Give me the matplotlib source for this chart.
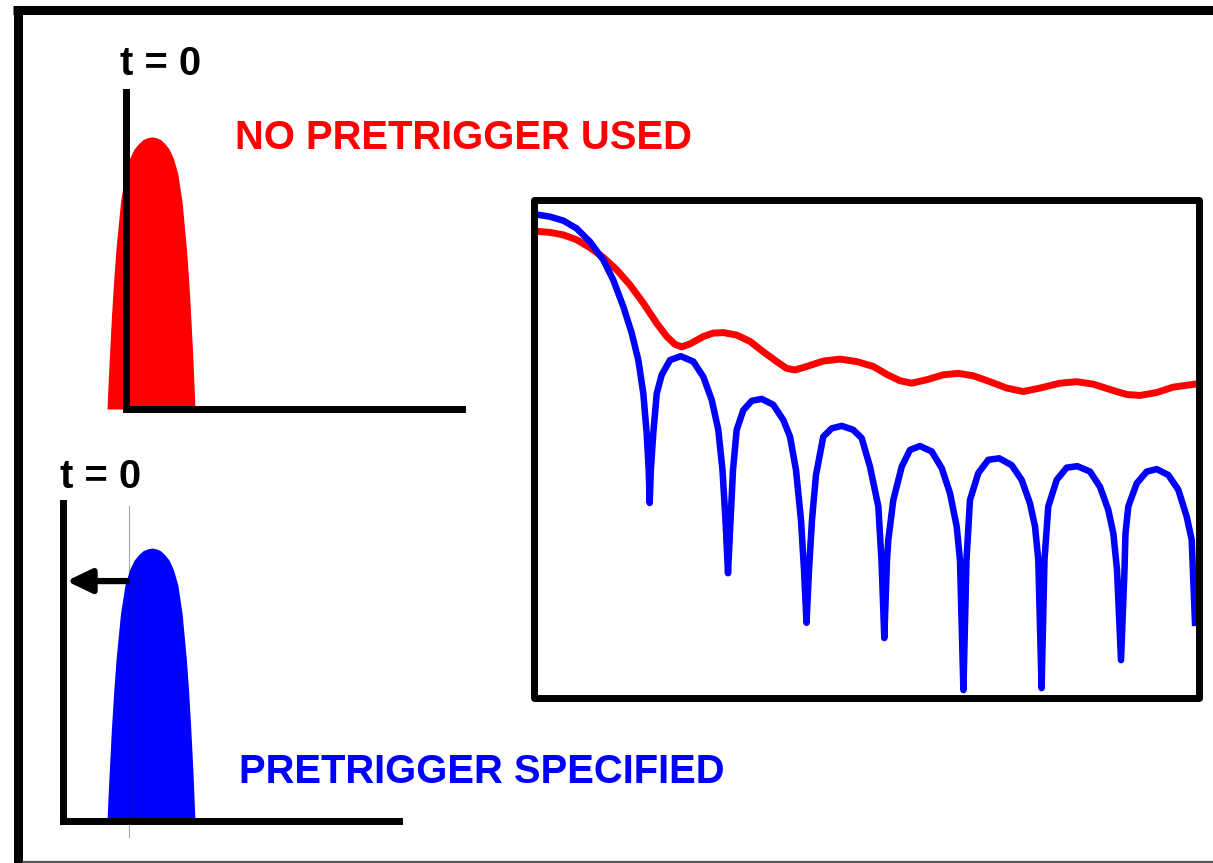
import matplotlib
matplotlib.use("Agg")
import matplotlib.pyplot as plt
from matplotlib.patches import Rectangle

W, H = 1213, 863

# ── Data ────────────────────────────────────────────────────────────────────
# pulse shape: time from pulse start (arb. units) and relative amplitude
pulse_t = [0.0, 0.09, 0.23, 0.45, 0.68, 0.9, 1.35, 1.8, 2.25, 2.7, 3.15, 3.6, 4.05,
           4.5, 4.93, 5.36, 5.79, 6.22, 6.65, 7.08, 7.51, 7.94, 8.16, 8.37, 8.59, 8.71, 8.8]
pulse_amp = [0.0, 0.078, 0.185, 0.344, 0.478, 0.59, 0.76, 0.865, 0.92, 0.955, 0.975, 0.99, 0.997,
             1.0, 0.997, 0.99, 0.975, 0.955, 0.92, 0.865, 0.76, 0.59, 0.478, 0.344, 0.185, 0.078, 0.0]

start_no_pretrig = -1.9   # pulse start relative to t = 0, no pretrigger
start_pretrig = 4.4       # pulse start relative to t = 0, pretrigger specified
trigger_pretrig = 6.6     # where the trigger would have been
arrow_level = 0.879

# spectra (frequency 0..100, level 0..100)
freq_red = [0, 1.83, 3.85, 5.89, 7.91, 9.94, 11.98, 14.0, 16.03, 18.07, 19.59, 20.85, 21.87,
            23.14, 25.16, 26.68, 28.2, 30.24, 32.27, 34.29, 36.33, 37.85, 39.12, 40.9, 43.42,
            45.97, 48.51, 51.04, 53.07, 55.1, 56.88, 59.16, 61.69, 63.97, 66.26, 68.8, 71.34,
            73.87, 76.41, 79.45, 81.99, 84.52, 87.57, 89.6, 91.63, 94.17, 96.7, 100]
level_red = [94.4, 94.2, 93.7, 92.7, 91.1, 89.1, 86.6, 83.5, 79.8, 75.7, 73.0, 71.4, 70.9,
             71.5, 73.0, 73.7, 73.8, 73.3, 72.0, 69.9, 67.9, 66.5, 66.2, 66.9, 68.0,
             68.4, 67.9, 66.9, 65.3, 64.0, 63.5, 64.2, 65.2, 65.5, 65.0, 63.8, 62.5,
             61.8, 62.5, 63.5, 63.8, 63.3, 62.0, 61.2, 61.0, 61.6, 62.7, 63.3]

freq_blue = [0, 1.83, 3.85, 5.89, 7.91, 9.94, 11.46, 12.98, 14.26, 15.27, 16.03, 16.54,
             16.85, 17.0, 17.17, 17.55, 18.07, 18.83, 20.09, 21.72, 23.64, 25.16, 26.44,
             27.44, 28.08, 28.54, 28.92, 29.3, 29.68, 30.24, 31.25, 32.53, 34.05, 35.81,
             37.34, 38.36, 39.27, 40.03, 40.49, 40.87, 41.25, 41.7, 42.31, 43.42, 44.7,
             46.23, 47.99, 49.27, 50.53, 51.8, 52.28, 52.71, 53.12, 53.32, 54.08, 55.36,
             56.62, 58.14, 59.92, 61.45, 62.71, 63.73, 64.23, 64.75, 65.22, 65.75, 67.02,
             68.54, 70.21, 72.1, 73.62, 74.89, 75.65, 76.15, 76.65, 77.09, 77.67, 78.95,
             80.47, 82.09, 84.02, 85.54, 86.8, 87.57, 88.13, 88.74, 89.27, 89.42, 89.85,
             91.13, 92.65, 94.17, 95.94, 97.46, 98.74, 99.5, 100]
level_blue = [97.8, 97.4, 96.6, 95.0, 92.3, 88.6, 84.5, 79.1, 73.7, 68.2, 61.4, 53.3,
              45.8, 39.1, 45.8, 53.3, 61.4, 65.2, 68.2, 69.0, 67.9, 64.8, 60.1,
              54.0, 45.8, 35.6, 24.8, 35.6, 45.8, 54.0, 58.0, 59.9, 60.3, 59.1,
              56.0, 52.6, 45.8, 35.6, 25.5, 14.7, 25.5, 35.6, 44.8, 52.6, 54.3,
              54.8, 54.0, 52.3, 46.5, 38.4, 27.5, 11.6, 27.5, 31.6, 39.7, 46.5,
              49.9, 50.7, 49.6, 46.2, 41.1, 34.3, 27.5, 1.0, 27.5, 39.7, 45.2,
              47.9, 48.2, 46.8, 43.8, 39.0, 34.3, 27.5, 1.4, 27.5, 38.4, 43.8,
              46.3, 46.6, 45.5, 42.4, 37.7, 32.9, 25.5, 7.1, 25.5, 32.9, 38.4,
              43.1, 45.5, 46.0, 44.8, 41.8, 36.3, 31.6, 14.7]

# ── Figure ──────────────────────────────────────────────────────────────────
fig = plt.figure(figsize=(W / 100, H / 100), dpi=100)
font = dict(family="Liberation Sans", weight="bold", size=28.8)


def place(left, top, right, bottom):
    return fig.add_axes([left / W, 1 - bottom / H, (right - left) / W, (bottom - top) / H])


# outer border (left + top thick, thin bottom)
bg = fig.add_axes([0, 0, 1, 1])
bg.set_xlim(0, W)
bg.set_ylim(H, 0)
bg.axis("off")
bg.plot([17.5, 17.5], [6, H], color="black", lw=6.5, solid_capstyle="butt")
bg.plot([13, W], [10.5, 10.5], color="black", lw=6.5, solid_capstyle="butt")
bg.plot([22, W], [861.5, 861.5], color="#555555", lw=1.6, solid_capstyle="butt")


def pulse_panel(ax, start, color):
    ax.set_xlim(0, 33.6)
    ax.set_ylim(0, 1.165)
    x = [start + t for t in pulse_t]
    ax.fill_between(x, pulse_amp, 0, color=color, lw=0, clip_on=False, zorder=1)
    for side in ["top", "right"]:
        ax.spines[side].set_visible(False)
    for side in ["left", "bottom"]:
        ax.spines[side].set_linewidth(5)
        ax.spines[side].set_zorder(3)
    ax.set_xticks([])
    ax.set_yticks([])
    ax.patch.set_alpha(0)


# top: no pretrigger
ax1 = place(126, 92, 462, 409)
pulse_panel(ax1, start_no_pretrig, "#ff0000")

# bottom: pretrigger specified
ax2 = place(63, 503, 399, 821)
pulse_panel(ax2, start_pretrig, "#0000ff")
ax2.plot([trigger_pretrig, trigger_pretrig], [-0.059, 1.154], color="black", alpha=0.35,
         lw=0.8, clip_on=False, zorder=2)
ax2.annotate("", xy=(0.35, arrow_level), xytext=(6.4, arrow_level),
             arrowprops=dict(arrowstyle="-|>,head_length=0.75,head_width=0.36",
                             lw=4.5, color="black", shrinkA=0, shrinkB=0,
                             mutation_scale=20), zorder=4)

# spectrum
ax3 = place(534, 200, 1199, 698)
ax3.set_xlim(-0.61, 100.61)
ax3.set_ylim(-0.61, 100.8)
ax3.plot(freq_red, level_red, color="#ff0000", lw=5, solid_joinstyle="round")
ax3.plot(freq_blue, level_blue, color="#0000ff", lw=4.7, solid_joinstyle="round")
ax3.axis("off")
ax3.add_patch(Rectangle((0, 0), 1, 1, transform=ax3.transAxes, fill=False, lw=5,
                        edgecolor="black", joinstyle="round", clip_on=False, zorder=5))

# labels
fig.text(160.5 / W, 1 - 75 / H, "t = 0", ha="center", va="baseline", color="black", **font)
fig.text(101 / W, 1 - 488 / H, "t = 0", ha="center", va="baseline", color="black", **font)
fig.text(235 / W, 1 - 149 / H, "NO PRETRIGGER USED", ha="left", va="baseline",
         color="#ff0000", **font)
fig.text(239 / W, 1 - 783 / H, "PRETRIGGER SPECIFIED", ha="left", va="baseline",
         color="#0000ff", **font)

fig.savefig("out.png", dpi=100)
